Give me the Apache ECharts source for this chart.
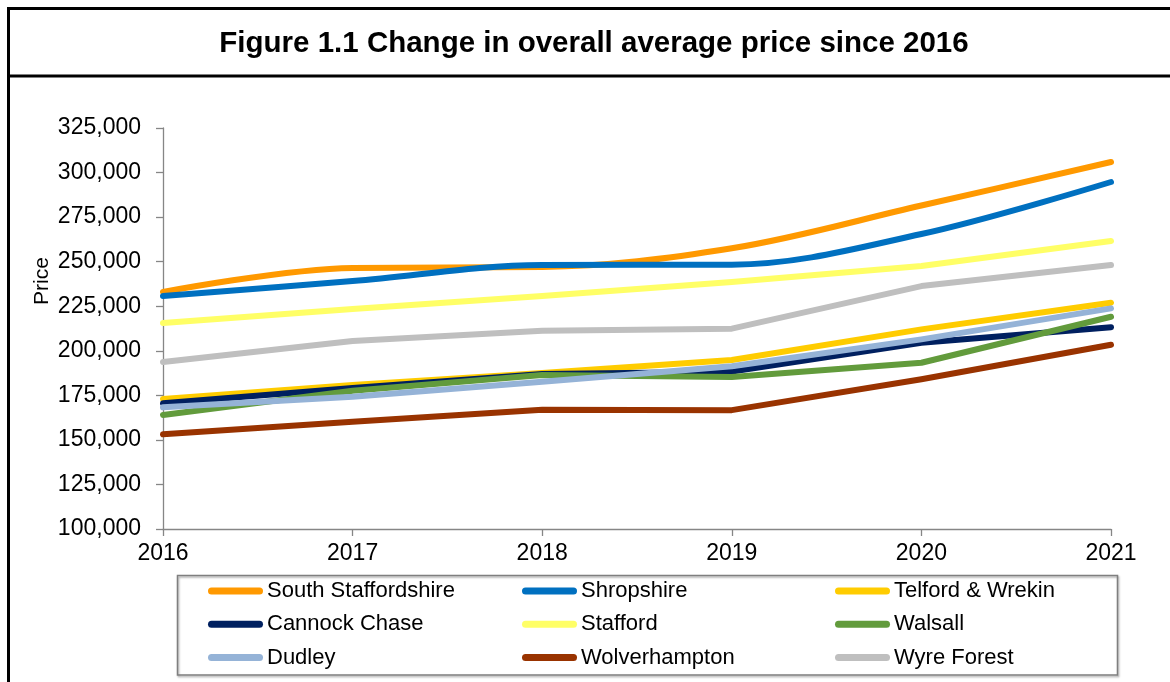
<!DOCTYPE html>
<html>
<head>
<meta charset="utf-8">
<script src="https://cdn.jsdelivr.net/npm/echarts@6/dist/echarts.min.js"></script>
<style>
html,body{margin:0;padding:0;background:#fff;}
#chart{width:1170px;height:682px;}
</style>
</head>
<body>
<div id="chart"></div>
<script>
const years = ['2016', '2017', '2018', '2019', '2020', '2021'];
const southStaffordshire = [233000, 246500, 247000, 257500, 281500, 305900];
const shropshire = [230700, 239100, 248100, 248300, 265500, 294700];
const telfordWrekin = [173000, 180800, 187500, 194800, 212000, 227000];
const cannockChase = [170500, 179100, 187000, 188300, 204500, 213200];
const stafford = [215600, 223400, 230700, 238600, 247600, 261600];
const walsall = [164000, 177600, 186400, 185300, 193300, 219100];
const dudley = [168300, 174200, 182600, 191300, 206400, 223800];
const wolverhampton = [153100, 160200, 166900, 166700, 184000, 203400];
const wyreForest = [193700, 205500, 211300, 212400, 236300, 248100];
const yTicks = {min: 100000, max: 325000, interval: 25000};

const seriesDefs = [
  {name: 'South Staffordshire', data: southStaffordshire, color: '#FF9900', smooth: true},
  {name: 'Shropshire', data: shropshire, color: '#0070C0', smooth: true},
  {name: 'Telford & Wrekin', data: telfordWrekin, color: '#FFCC00', smooth: false},
  {name: 'Cannock Chase', data: cannockChase, color: '#002060', smooth: false},
  {name: 'Stafford', data: stafford, color: '#FFFF66', smooth: false},
  {name: 'Walsall', data: walsall, color: '#629B3C', smooth: false},
  {name: 'Dudley', data: dudley, color: '#95B3D7', smooth: false},
  {name: 'Wolverhampton', data: wolverhampton, color: '#993300', smooth: false},
  {name: 'Wyre Forest', data: wyreForest, color: '#BFBFBF', smooth: false}
];

const FONT = '"Liberation Sans", Arial, sans-serif';
const legendIcon = 'path://M3.5,0 L51.5,0 A3.5,3.5 0 0 1 51.5,7 L3.5,7 A3.5,3.5 0 0 1 3.5,0 Z';
function legendCol(names, left) {
  return {
    orient: 'vertical', left: left, top: 579, padding: 0,
    itemWidth: 55, itemHeight: 7, itemGap: 9.3,
    icon: legendIcon,
    textStyle: {fontFamily: FONT, fontSize: 22, color: '#000', lineHeight: 24, padding: [0, 0, 0, -1]},
    data: names, selectedMode: false
  };
}

const chart = echarts.init(document.getElementById('chart'), null, {renderer: 'canvas'});
chart.setOption({
  animation: false,
  backgroundColor: '#fff',
  grid: {left: 163, right: 59, top: 128, bottom: 153, containLabel: false},
  xAxis: {
    type: 'category', data: years, boundaryGap: false,
    axisLine: {lineStyle: {color: '#868686', width: 1.3}},
    axisTick: {show: true, length: 7, lineStyle: {color: '#868686', width: 1.3}},
    axisLabel: {fontFamily: FONT, fontSize: 23, color: '#000', margin: 13},
    splitLine: {show: false}
  },
  yAxis: {
    type: 'value', min: yTicks.min, max: yTicks.max, interval: yTicks.interval,
    axisLine: {show: true, lineStyle: {color: '#868686', width: 1.3}},
    axisTick: {show: true, length: 7, lineStyle: {color: '#868686', width: 1.3}},
    axisLabel: {fontFamily: FONT, fontSize: 23, color: '#000', margin: 22,
      formatter: v => v.toLocaleString('en-GB')},
    splitLine: {show: false}
  },
  legend: [
    legendCol(['South Staffordshire', 'Cannock Chase', 'Dudley'], 208),
    legendCol(['Shropshire', 'Stafford', 'Wolverhampton'], 522),
    legendCol(['Telford & Wrekin', 'Walsall', 'Wyre Forest'], 835)
  ],
  graphic: [
    {type: 'line', shape: {x1: 8, y1: 8.5, x2: 1172, y2: 8.5}, style: {stroke: '#000', lineWidth: 3}},
    {type: 'line', shape: {x1: 8.5, y1: 7, x2: 8.5, y2: 690}, style: {stroke: '#000', lineWidth: 3}},
    {type: 'line', shape: {x1: 8, y1: 76, x2: 1172, y2: 76}, style: {stroke: '#000', lineWidth: 3}},
    {type: 'text', x: 594, y: 44, style: {text: 'Figure 1.1 Change in overall average price since 2016',
      font: 'bold 29.5px "Liberation Sans", Arial, sans-serif', fill: '#000', textAlign: 'center', textVerticalAlign: 'middle'}},
    {type: 'text', x: 42, y: 281, rotation: Math.PI / 2, style: {text: 'Price',
      font: '21px "Liberation Sans", Arial, sans-serif', fill: '#000', textAlign: 'center', textVerticalAlign: 'middle'}},
    {type: 'rect', shape: {x: 177.5, y: 575.5, width: 940, height: 99.5},
      style: {fill: 'none', stroke: '#7F7F7F', lineWidth: 1.5, shadowColor: 'rgba(0,0,0,0.35)', shadowBlur: 2, shadowOffsetX: 1, shadowOffsetY: 1.5}, z: -1}
  ],
  series: seriesDefs.map(s => ({
    name: s.name, type: 'line', data: s.data, smooth: s.smooth ? 0.35 : false,
    showSymbol: false, symbol: 'none',
    lineStyle: {color: s.color, width: 6, cap: 'round', join: 'round'},
    itemStyle: {color: s.color}
  }))
});
</script>
</body>
</html>
